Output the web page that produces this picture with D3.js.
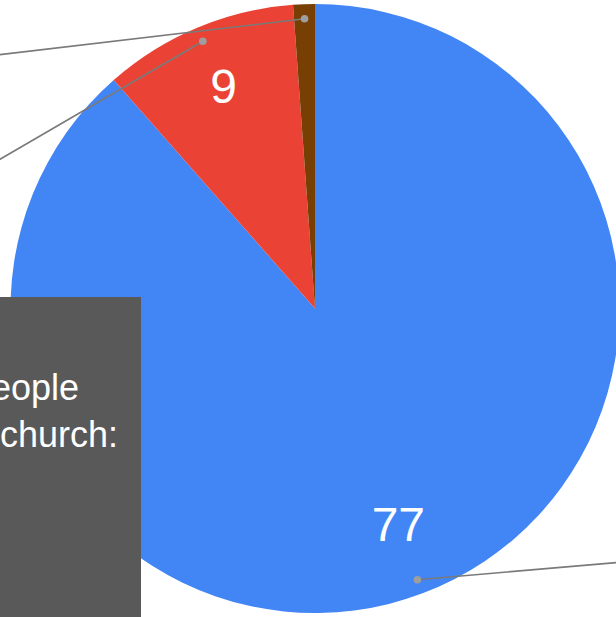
<!DOCTYPE html>
<html>
<head>
<meta charset="utf-8">
<script src="https://cdn.jsdelivr.net/npm/d3@7"></script>
<style>
  html, body { margin: 0; padding: 0; background: #fff; }
  svg { display: block; }
</style>
</head>
<body>
<svg id="chart" width="616" height="617"></svg>
<script>
// Slice values, drawn clockwise from 12 o'clock
const categories = ["A", "B", "C"];
const values = [77, 9, 1];
const colors = ["#4285f4", "#ea4335", "#783f04"];
const valueLabels = ["77", "9", ""];
// Direction (degrees, screen space, y down) that each leader line heads away from its dot
const leaderDirs = [-4.9, 149.8, 173.3];
const legendLines = ["people", "church:"];

const W = 616, H = 617;
const cx = 315, cy = 308.5, R = 304.5;

const svg = d3.select("#chart");
const g = svg.append("g").attr("transform", `translate(${cx},${cy})`);

const pie = d3.pie().sort(null).value(d => d.value);
const data = pie(categories.map((c, i) => ({ cat: c, value: values[i], i })));

const arc = d3.arc().innerRadius(0).outerRadius(R);
const labelArc = d3.arc().innerRadius(R * 0.775).outerRadius(R * 0.775);
const dotArc = d3.arc().innerRadius(R * 0.952).outerRadius(R * 0.952);

g.selectAll("path.slice")
  .data(data)
  .join("path")
  .attr("class", "slice")
  .attr("d", arc)
  .attr("fill", d => colors[d.data.i]);

// Value labels inside the slices
g.selectAll("text.val")
  .data(data.filter(d => valueLabels[d.data.i] !== ""))
  .join("text")
  .attr("class", "val")
  .attr("x", d => labelArc.centroid(d)[0])
  .attr("y", d => labelArc.centroid(d)[1] + 12)
  .attr("text-anchor", "middle")
  .attr("font-family", "Arial, 'Liberation Sans', sans-serif")
  .attr("font-size", 48)
  .attr("fill", "#ffffff")
  .text(d => valueLabels[d.data.i]);

// Leader lines running out to labels beyond the frame
const leaderLen = 420;
g.selectAll("line.leader")
  .data(data)
  .join("line")
  .attr("class", "leader")
  .attr("x1", d => dotArc.centroid(d)[0])
  .attr("y1", d => dotArc.centroid(d)[1])
  .attr("x2", d => dotArc.centroid(d)[0] + leaderLen * Math.cos(leaderDirs[d.data.i] * Math.PI / 180))
  .attr("y2", d => dotArc.centroid(d)[1] + leaderLen * Math.sin(leaderDirs[d.data.i] * Math.PI / 180))
  .attr("stroke", "#7a7a7a")
  .attr("stroke-width", 1.6);

g.selectAll("circle.dot")
  .data(data)
  .join("circle")
  .attr("class", "dot")
  .attr("cx", d => dotArc.centroid(d)[0])
  .attr("cy", d => dotArc.centroid(d)[1])
  .attr("r", 3.8)
  .attr("fill", "#9e9e9e");

// Dark caption panel at the lower left
const panel = svg.append("g");
panel.append("rect")
  .attr("x", 0).attr("y", 297)
  .attr("width", 141).attr("height", H - 297)
  .attr("fill", "#595959");

panel.selectAll("text")
  .data(legendLines)
  .join("text")
  .attr("x", (d, i) => i === 0 ? 79 : 118)
  .attr("y", (d, i) => 400 + i * 47)
  .attr("text-anchor", "end")
  .attr("font-family", "Arial, 'Liberation Sans', sans-serif")
  .attr("font-size", 36)
  .attr("fill", "#ffffff")
  .text(d => d);
</script>
</body>
</html>
